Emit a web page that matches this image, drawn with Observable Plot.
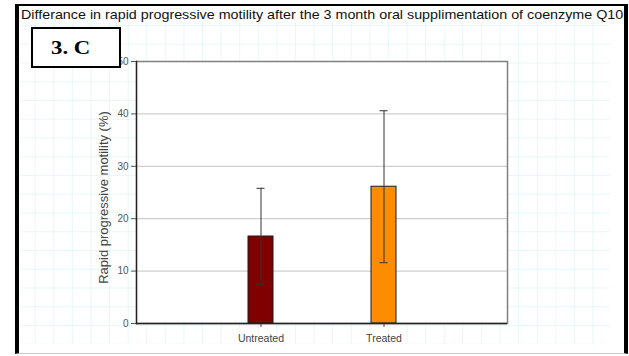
<!DOCTYPE html>
<html>
<head>
<meta charset="utf-8">
<script src="https://cdn.jsdelivr.net/npm/d3@7"></script>
<script src="https://cdn.jsdelivr.net/npm/@observablehq/plot@0.6"></script>
<style>
  html, body { margin: 0; padding: 0; background: #fff; }
  #page { position: relative; width: 629px; height: 356px; overflow: hidden; font-family: "Liberation Sans", Arial, sans-serif; }
  #paper {
    position: absolute; left: 20px; top: 22px; width: 590px; height: 322px;
    background-image:
      linear-gradient(to right, rgba(170, 225, 220, 0.25) 1px, transparent 1px),
      linear-gradient(to bottom, rgba(170, 225, 220, 0.25) 1px, transparent 1px);
    background-size: 18.6px 18.75px;
    background-position: 14.7px 3px;
  }
  #border {
    position: absolute; left: 15px; top: 4px; width: 613px; height: 350px; box-sizing: border-box;
    border-left: 4px solid #000; border-right: 4px solid #000; border-top: 2px solid #000; border-bottom: 1px solid #c8c8c8;
  }
  #title {
    position: absolute; left: 21px; top: 7px; font-size: 13px; color: #111; white-space: nowrap;
    transform: scaleX(1.1); transform-origin: left top;
  }
  #chart { position: absolute; left: 0; top: 0; }
  #tag {
    position: absolute; left: 31px; top: 27px; width: 90px; height: 41px; box-sizing: border-box;
    border: 2px solid #000; background: #fff;
  }
  #tag span {
    position: absolute; left: 18px; top: 0; line-height: 38px;
    font-family: "Liberation Serif", "Times New Roman", serif; font-weight: bold; font-size: 19px; color: #000;
    transform: scaleX(1.2); transform-origin: left center; white-space: nowrap;
  }
</style>
</head>
<body>
<div id="page">
  <div id="paper"></div>
  <div id="border"></div>
  <div id="title">Differance in rapid progressive motility after the 3 month oral supplimentation of coenzyme Q10</div>
  <div id="chart"></div>
  <div id="tag"><span>3. C</span></div>
</div>
<script>
// Group means and standard deviations of rapid progressive motility (%)
const groups = ["Untreated", "Treated"];
const means = [16.6, 26.1];
const sds = [9.2, 14.5];
const barColors = ["#800000", "#ff8c00"];
const yTicks = [0, 10, 20, 30, 40, 50];
const yLabel = "Rapid progressive motility (%)";

const data = groups.map((g, i) => ({group: g, mean: means[i], sd: sds[i], color: barColors[i]}));

const chart = Plot.plot({
  width: 629,
  height: 356,
  marginLeft: 136,
  marginRight: 122,
  marginTop: 61,
  marginBottom: 33,
  style: {background: "transparent", fontFamily: "'Liberation Sans', Arial, sans-serif", overflow: "visible"},
  x: {type: "band", domain: groups, paddingInner: 0.8, paddingOuter: 0.9, label: null},
  y: {domain: [0, 50], label: null},
  marks: [
    Plot.frame({fill: "white", stroke: "none"}),
    Plot.gridY(yTicks, {stroke: "#cfcfcf", strokeOpacity: 1, strokeWidth: 1.2}),
    Plot.frame({stroke: "#808080", strokeWidth: 1.5}),
    Plot.barY(data, {x: "group", y: "mean", fill: "color", stroke: "#1a1a1a", strokeWidth: 1}),
    Plot.ruleX(data, {x: "group", y1: d => d.mean - d.sd, y2: d => d.mean + d.sd, stroke: "#333", strokeWidth: 1}),
    Plot.tickY(data, {x: "group", y: d => d.mean + d.sd, insetLeft: 8.5, insetRight: 8.5, stroke: "#333", strokeWidth: 1}),
    Plot.tickY(data, {x: "group", y: d => d.mean - d.sd, insetLeft: 8.5, insetRight: 8.5, stroke: "#333", strokeWidth: 1}),
    Plot.axisY({ticks: yTicks, tickSize: 5, tickPadding: 3, fontSize: 10, color: "#555", label: null}),
    Plot.axisX({tickSize: 4, tickPadding: 7, fontSize: 10.5, color: "#444", label: null}),
    Plot.frame({anchor: "left", stroke: "#222", strokeWidth: 1.3}),
    Plot.ruleY([0], {stroke: "#222", strokeWidth: 1.3}),
    Plot.text([yLabel], {text: d => d, frameAnchor: "left", textAnchor: "middle", rotate: -90, dx: -33, dy: 5, fontSize: 13, fill: "#444"})
  ]
});

document.getElementById("chart").appendChild(chart);
</script>
</body>
</html>
